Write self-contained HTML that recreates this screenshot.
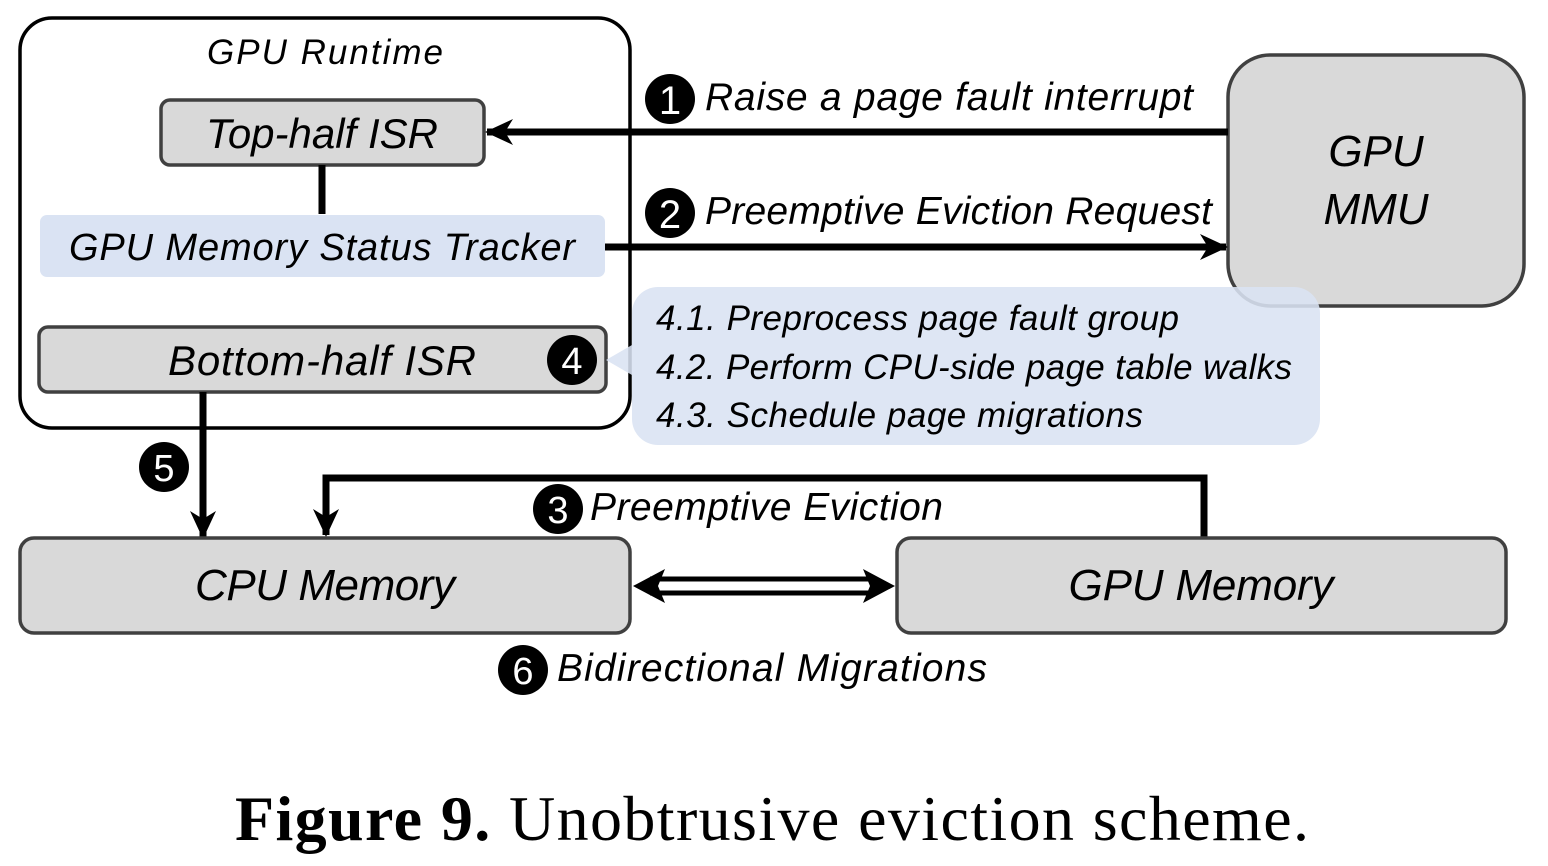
<!DOCTYPE html>
<html><head><meta charset="utf-8"><style>
html,body{margin:0;padding:0;background:#fff;}
svg{display:block;}
.t{font-family:"Liberation Sans",sans-serif;font-style:italic;fill:#000;}
.n{font-family:"Liberation Sans",sans-serif;fill:#fff;text-anchor:middle;}
</style></head><body>
<svg width="1548" height="866" viewBox="0 0 1548 866" xmlns="http://www.w3.org/2000/svg">
<defs>
<marker id="ah" viewBox="0 0 28 28" refX="26" refY="14" markerWidth="28" markerHeight="28" markerUnits="userSpaceOnUse" orient="auto">
<path d="M0,1 L28,14 L0,27 L8,14 Z" fill="#000"/>
</marker>
</defs>
<rect x="20" y="18" width="610" height="410" rx="32" fill="#fff" stroke="#000" stroke-width="3.5"/>
<text class="t" x="325" y="64" font-size="35" text-anchor="middle" textLength="236">GPU Runtime</text>
<rect x="161" y="100" width="323" height="65" rx="9" fill="#d9d9d9" stroke="#404040" stroke-width="3.5"/>
<text class="t" x="322" y="148" font-size="42" text-anchor="middle" textLength="232">Top-half ISR</text>
<line x1="322" y1="165" x2="322" y2="214" stroke="#000" stroke-width="7"/>
<rect x="40" y="215" width="565" height="62" rx="7" fill="#dae3f3"/>
<text class="t" x="322" y="260" font-size="38" text-anchor="middle" textLength="506">GPU Memory Status Tracker</text>
<rect x="39" y="327" width="567" height="65" rx="9" fill="#d9d9d9" stroke="#404040" stroke-width="3.5"/>
<text class="t" x="322" y="375" font-size="42" text-anchor="middle" textLength="308">Bottom-half ISR</text>
<circle cx="572" cy="360" r="25" fill="#000"/>
<text class="n" x="572" y="374" font-size="38">4</text>
<rect x="1228" y="55" width="296" height="251" rx="42" fill="#d9d9d9" stroke="#404040" stroke-width="3.5"/>
<text class="t" x="1376" y="166" font-size="44" text-anchor="middle">GPU</text>
<text class="t" x="1376" y="224" font-size="44" text-anchor="middle">MMU</text>
<rect x="632" y="287" width="688" height="158" rx="26" fill="#dae3f3" fill-opacity="0.88"/>
<path d="M606,360 L632,345 L632,375 Z" fill="#dae3f3" fill-opacity="0.88"/>
<text class="t" x="656" y="330" font-size="35" textLength="523">4.1. Preprocess page fault group</text>
<text class="t" x="656" y="379" font-size="35" textLength="636">4.2. Perform CPU-side page table walks</text>
<text class="t" x="656" y="427" font-size="35" textLength="487">4.3. Schedule page migrations</text>
<line x1="1228" y1="132" x2="487" y2="132" stroke="#000" stroke-width="7" marker-end="url(#ah)"/>
<circle cx="670" cy="99" r="25" fill="#000"/>
<text class="n" x="670" y="114" font-size="40">1</text>
<text class="t" x="705" y="110" font-size="39" textLength="488">Raise a page fault interrupt</text>
<line x1="605" y1="247" x2="1226" y2="247" stroke="#000" stroke-width="7" marker-end="url(#ah)"/>
<circle cx="670" cy="213" r="25" fill="#000"/>
<text class="n" x="670" y="228" font-size="40">2</text>
<text class="t" x="705" y="224" font-size="39" textLength="507">Preemptive Eviction Request</text>
<line x1="203" y1="392" x2="203" y2="537" stroke="#000" stroke-width="7" marker-end="url(#ah)"/>
<circle cx="164" cy="467" r="25" fill="#000"/>
<text class="n" x="164" y="481" font-size="38">5</text>
<polyline points="1204,538 1204,478 326,478 326,535" fill="none" stroke="#000" stroke-width="7" marker-end="url(#ah)"/>
<circle cx="558" cy="509" r="25" fill="#000"/>
<text class="n" x="558" y="523" font-size="38">3</text>
<text class="t" x="590" y="520" font-size="39" textLength="353">Preemptive Eviction</text>
<rect x="20" y="538" width="610" height="95" rx="14" fill="#d9d9d9" stroke="#404040" stroke-width="3.5"/>
<text class="t" x="325" y="600" font-size="44" text-anchor="middle" textLength="260">CPU Memory</text>
<rect x="897" y="538" width="609" height="95" rx="14" fill="#d9d9d9" stroke="#404040" stroke-width="3.5"/>
<text class="t" x="1201" y="600" font-size="44" text-anchor="middle" textLength="265">GPU Memory</text>
<line x1="650" y1="579" x2="877" y2="579" stroke="#000" stroke-width="5"/>
<line x1="650" y1="593" x2="877" y2="593" stroke="#000" stroke-width="5"/>
<path d="M633,586 L665,569 L658,586 L665,603 Z" fill="#000"/>
<path d="M895,586 L863,569 L870,586 L863,603 Z" fill="#000"/>
<circle cx="523" cy="670" r="25" fill="#000"/>
<text class="n" x="523" y="684" font-size="38">6</text>
<text class="t" x="557" y="681" font-size="39" textLength="430">Bidirectional Migrations</text>
<text x="772" y="840" font-family="'Liberation Serif',serif" font-size="64" text-anchor="middle" textLength="1074"><tspan font-weight="bold">Figure 9.</tspan> Unobtrusive eviction scheme.</text>
</svg>
</body></html>
